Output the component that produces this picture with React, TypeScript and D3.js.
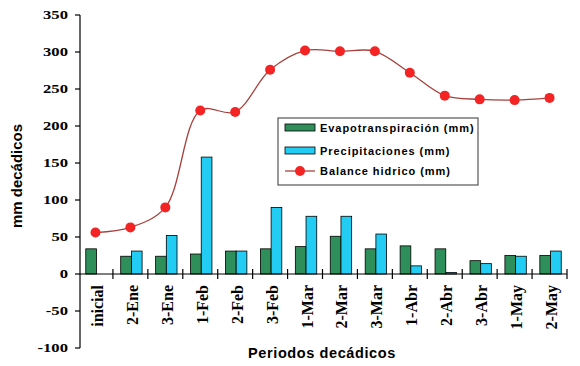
import React from "react";
import * as d3 from "d3";

const categories = ["inicial", "2-Ene", "3-Ene", "1-Feb", "2-Feb", "3-Feb", "1-Mar", "2-Mar", "3-Mar", "1-Abr", "2-Abr", "3-Abr", "1-May", "2-May"];
const evapo = [34, 24, 24, 27, 31, 34, 37, 51, 34, 38, 34, 18, 25, 25];
const precip = [0, 31, 52, 158, 31, 90, 78, 78, 54, 11, 2, 14, 24, 31];
const balance = [56, 63, 90, 221, 219, 276, 302, 301, 301, 272, 241, 236, 235, 238];
const yTicks = [-100, -50, 0, 50, 100, 150, 200, 250, 300, 350];

const W = 580;
const H = 366;
const left = 80;
const right = 567;
const top = 15;
const bottom = 348;

const green = "#2f8f5b";
const cyan = "#22ccf2";
const lineCol = "#a8403c";
const dotCol = "#f42424";

const App = () => {
    const x = d3.scaleBand<string>().domain(categories).range([left - 2, right]);
    const y = d3.scaleLinear().domain([-100, 350]).range([bottom, top]);
    const bw = 10.7;
    const y0 = y(0);

    const line = d3.line<number>()
        .x((d, i) => x(categories[i])! + x.bandwidth() / 2)
        .y(d => y(d))
        .curve(d3.curveCatmullRom.alpha(0.5));

    return (
        <svg width={W} height={H} style={{position: "absolute", left: 0, top: 0, background: "#fff"}}>
            {/* y axis */}
            <line x1={left} x2={left} y1={top} y2={bottom} stroke="#000" strokeWidth={1.2} />
            {yTicks.map(t => (
                <g key={t}>
                    <line x1={left - 5} x2={left} y1={y(t)} y2={y(t)} stroke="#000" strokeWidth={1.2} />
                    <text transform={`translate(68,${y(t) + 4.3}) scale(1.3,1)`} textAnchor="end" fontFamily="Liberation Serif" fontWeight="bold" fontSize={12.8}>{t}</text>
                </g>
            ))}
            {/* bars */}
            {categories.map((c, i) => {
                const cx = x(c)! + x.bandwidth() / 2 + 1;
                return (
                    <g key={c}>
                        <rect x={cx - bw} y={y(evapo[i])} width={bw} height={y0 - y(evapo[i])} fill={green} stroke="#000" strokeWidth={0.8} />
                        {precip[i] > 0 && (
                            <rect x={cx} y={y(precip[i])} width={bw} height={y0 - y(precip[i])} fill={cyan} stroke="#000" strokeWidth={0.8} />
                        )}
                    </g>
                );
            })}
            {/* zero line with category ticks */}
            <line x1={left} x2={right} y1={y0} y2={y0} stroke="#000" strokeWidth={1.2} />
            {categories.map(c => (
                <line key={c} x1={x(c)! + x.bandwidth()} x2={x(c)! + x.bandwidth()} y1={y0 - 5} y2={y0 + 5} stroke="#000" strokeWidth={1.2} />
            ))}
            {categories.map(c => {
                const cx = x(c)! + x.bandwidth() / 2;
                return (
                    <text key={c} transform={`translate(${cx + 7.5},${y0 + 11}) rotate(-90)`} textAnchor="end" fontFamily="Liberation Serif" fontWeight="bold" fontSize={16}>{c}</text>
                );
            })}
            {/* balance line */}
            <path d={line(balance) || ""} fill="none" stroke={lineCol} strokeWidth={1.3} />
            {balance.map((v, i) => (
                <circle key={i} cx={x(categories[i])! + x.bandwidth() / 2} cy={y(v)} r={5} fill={dotCol} />
            ))}
            {/* legend */}
            <rect x={278} y={118} width={200} height={67} fill="#fff" stroke="#555" strokeWidth={1.2} />
            <rect x={285} y={124} width={30} height={7} fill={green} stroke="#000" strokeWidth={0.8} />
            <text x={320} y={132} fontFamily="Liberation Sans" fontWeight="bold" fontSize={11} letterSpacing={0.95}>Evapotranspiración (mm)</text>
            <rect x={285} y={147} width={30} height={7} fill={cyan} stroke="#000" strokeWidth={0.8} />
            <text x={320} y={155} fontFamily="Liberation Sans" fontWeight="bold" fontSize={11} letterSpacing={0.95}>Precipitaciones (mm)</text>
            <line x1={285} x2={315} y1={171} y2={171} stroke={lineCol} strokeWidth={1.3} />
            <circle cx={300} cy={171} r={5} fill={dotCol} />
            <text x={320} y={175} fontFamily="Liberation Sans" fontWeight="bold" fontSize={11} letterSpacing={0.95}>Balance hidrico (mm)</text>
            {/* titles */}
            <text transform={`translate(22,176) rotate(-90)`} textAnchor="middle" fontFamily="Liberation Sans" fontWeight="bold" fontSize={15}>mm decádicos</text>
            <text x={322} y={358} textAnchor="middle" fontFamily="Liberation Sans" fontWeight="bold" fontSize={14.5} letterSpacing={0.6}>Periodos decádicos</text>
        </svg>
    );
};

export default App;
